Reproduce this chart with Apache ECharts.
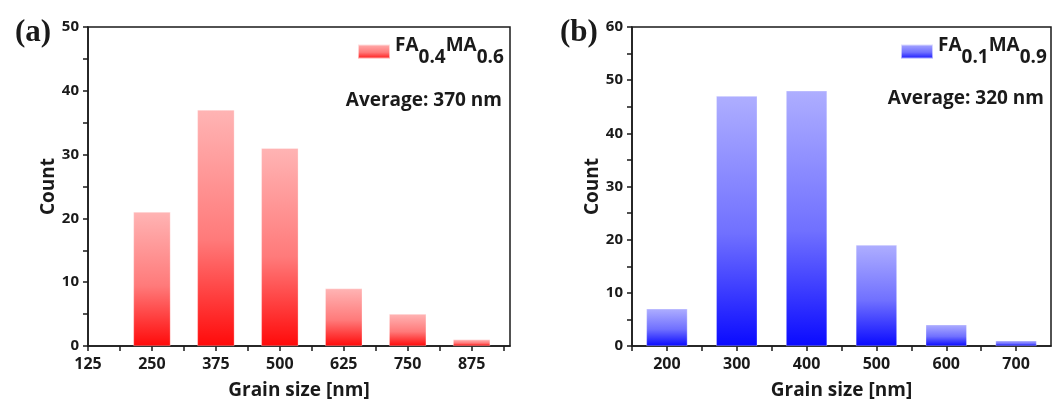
<!DOCTYPE html>
<html>
<head>
<meta charset="utf-8">
<script src="https://cdn.jsdelivr.net/npm/echarts@6/dist/echarts.min.js"></script>
<style>
  html, body { margin: 0; padding: 0; background: #fff; }
  #chart { width: 1063px; height: 401px; }
</style>
</head>
<body>
<div id="chart"></div>
<script>
// grain size histograms
var sizesA = [250, 375, 500, 625, 750, 875];
var countsA = [21, 37, 31, 9, 5, 1];
var sizesB = [200, 300, 400, 500, 600, 700];
var countsB = [7, 47, 48, 19, 4, 1];
var averageA = 'Average: 370 nm';
var averageB = 'Average: 320 nm';

var FONT = 'Open Sans';
var INK = '#1a1a1a';

function pairs(xs, ys) {
  return xs.map(function (x, i) { return [x, ys[i]]; });
}

function grad(top, mid, bottom) {
  return new echarts.graphic.LinearGradient(0, 0, 0, 1, [
    { offset: 0, color: top },
    { offset: 0.55, color: mid },
    { offset: 1, color: bottom }
  ]);
}

var subRich = {
  m: { fontFamily: FONT, fontWeight: 'bold', fontSize: 19, color: INK, lineHeight: 31, verticalAlign: 'top' },
  s: { fontFamily: FONT, fontWeight: 'bold', fontSize: 19, color: INK, lineHeight: 31, verticalAlign: 'bottom' }
};

function xAxisOf(idx, min, max, step, labelStep) {
  return {
    type: 'value', gridIndex: idx, min: min, max: max, interval: step,
    name: 'Grain size [nm]', nameLocation: 'middle', nameGap: 35,
    nameTextStyle: { fontFamily: FONT, fontWeight: 'bold', fontSize: 19, color: INK },
    axisLine: { show: true, lineStyle: { color: INK, width: 1.5 } },
    axisTick: { show: true, inside: false, length: 5, lineStyle: { color: INK, width: 1.5 } },
    axisLabel: {
      margin: 10, fontFamily: FONT, fontWeight: 'bold', fontSize: 16, color: INK,
      showMaxLabel: false,
      formatter: function (v) { return (Math.abs(v % labelStep) < 1e-6) ? String(v) : ''; }
    },
    splitLine: { show: false }
  };
}

function yAxisOf(idx, max) {
  return {
    type: 'value', gridIndex: idx, min: 0, max: max, interval: 5,
    name: 'Count', nameLocation: 'middle', nameGap: 28,
    nameTextStyle: { fontFamily: FONT, fontWeight: 'bold', fontSize: 19, color: INK },
    axisLine: { show: true, lineStyle: { color: INK, width: 1.5 } },
    axisTick: { show: true, inside: false, length: 5, lineStyle: { color: INK, width: 1.5 } },
    axisLabel: {
      margin: 9, fontFamily: FONT, fontWeight: 'bold', fontSize: 15, color: INK,
      formatter: function (v) { return v % 10 === 0 ? String(v) : ''; }
    },
    splitLine: { show: false }
  };
}

var chart = echarts.init(document.getElementById('chart'), null, { renderer: 'canvas' });

var option = {
  backgroundColor: '#fff',
  animation: false,
  title: [
    { text: '(a)', left: 10, top: 12, textStyle: { fontFamily: 'Liberation Serif', fontWeight: 'bold', fontSize: 31, color: INK } },
    { text: '(b)', left: 555, top: 12, textStyle: { fontFamily: 'Liberation Serif', fontWeight: 'bold', fontSize: 31, color: INK } },
    { text: averageA, right: 556, top: 86, textStyle: { fontFamily: FONT, fontWeight: 'bold', fontSize: 19, color: INK } },
    { text: averageB, right: 14, top: 84, textStyle: { fontFamily: FONT, fontWeight: 'bold', fontSize: 19, color: INK } }
  ],
  legend: [
    {
      data: ['FA0.4MA0.6'], left: 352, top: 31, itemWidth: 32, itemHeight: 14, itemGap: 0,
      icon: 'rect',
      formatter: function () { return '{m|FA}{s|0.4}{m|MA}{s|0.6}'; },
      textStyle: { rich: subRich }
    },
    {
      data: ['FA0.1MA0.9'], left: 895, top: 31, itemWidth: 32, itemHeight: 14, itemGap: 0,
      icon: 'rect',
      formatter: function () { return '{m|FA}{s|0.1}{m|MA}{s|0.9}'; },
      textStyle: { rich: subRich }
    }
  ],
  grid: [
    { left: 88, top: 27, width: 422, height: 319, outerBoundsMode: 'none', show: true, borderColor: INK, borderWidth: 1.5, backgroundColor: 'transparent' },
    { left: 632, top: 27, width: 419, height: 319, outerBoundsMode: 'none', show: true, borderColor: INK, borderWidth: 1.5, backgroundColor: 'transparent' }
  ],
  xAxis: [
    xAxisOf(0, 125, 950, 62.5, 125),
    xAxisOf(1, 150, 750, 50, 100)
  ],
  yAxis: [
    yAxisOf(0, 50),
    yAxisOf(1, 60)
  ],
  series: [
    {
      name: 'FA0.4MA0.6', type: 'bar', xAxisIndex: 0, yAxisIndex: 0,
      barWidth: 37,
      data: pairs(sizesA, countsA),
      itemStyle: { color: grad('#ffb4b4', '#ff7a7a', '#ff0a0a'), borderColor: 'rgba(255,255,255,0.6)', borderWidth: 0.5 }
    },
    {
      name: 'FA0.1MA0.9', type: 'bar', xAxisIndex: 1, yAxisIndex: 1,
      barWidth: 41,
      data: pairs(sizesB, countsB),
      itemStyle: { color: grad('#aeaeff', '#7070ff', '#0a0aff'), borderColor: 'rgba(255,255,255,0.6)', borderWidth: 0.5 }
    }
  ]
};

chart.setOption(option);
</script>
</body>
</html>
